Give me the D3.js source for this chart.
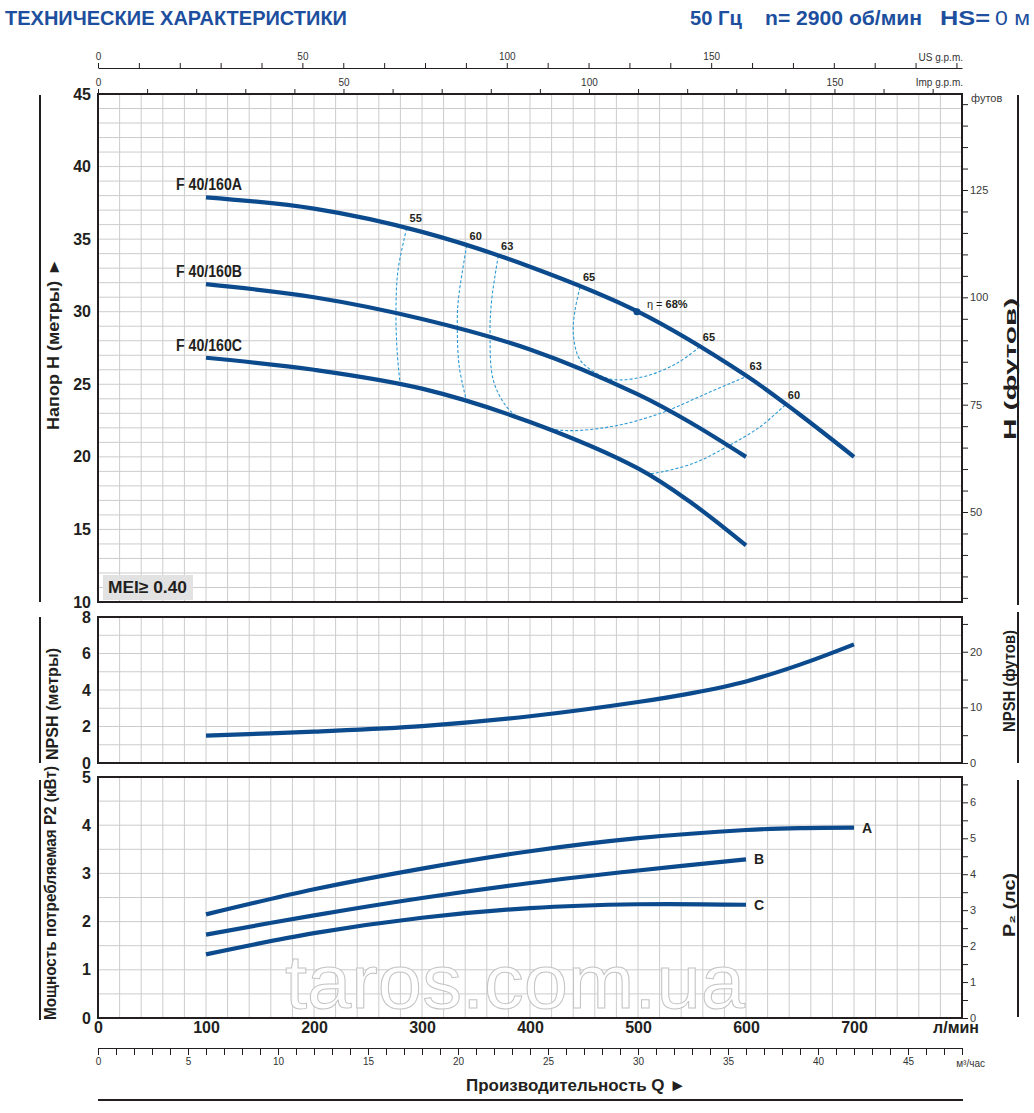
<!DOCTYPE html>
<html>
<head>
<meta charset="utf-8">
<script src="https://cdn.jsdelivr.net/npm/d3@7"></script>
<style>
  body { margin: 0; background: #fff; }
  svg { display: block; }
  text { font-family: "Liberation Sans Narrow", "Liberation Sans", Arial, sans-serif; }
</style>
</head>
<body>
<div id="chart"></div>
<script>
// ---- data ----
const qA = [100, 200, 300, 400, 500, 600, 650, 700];
const headA = [37.88, 37.1, 35.5, 33.1, 30.0, 25.6, 22.9, 20.0];
const qB = [100, 200, 300, 400, 500, 550, 600];
const headB = [31.9, 31.0, 29.5, 27.4, 24.3, 22.3, 20.0];
const qC = [100, 200, 300, 400, 500, 550, 600];
const headC = [26.83, 26.0, 24.7, 22.4, 19.2, 16.8, 13.9];
const pumpNames = ['F 40/160A', 'F 40/160B', 'F 40/160C'];

// iso-efficiency lines [Q l/min, H m]
const eff55 = [[285.8, 35.74], [277.8, 32.87], [275.9, 30.11], [276.9, 27.36], [279.6, 25.1]];
const eff60L = [[341.4, 34.55], [333.6, 30.8], [332.7, 28.96], [334.5, 26.21], [341.4, 23.8]];
const eff63 = [[370.6, 33.85], [364.5, 30.8], [363, 28.53], [366, 25.29], [378.4, 23.45], [393.8, 22.53],
  [427.8, 21.84], [474.1, 22.07], [520.4, 22.99], [563.6, 24.37], [600.6, 25.55]];
const eff65 = [[446.3, 31.68], [441.7, 30.11], [440.1, 28.51], [444.7, 26.9], [452.5, 26.21], [474.1, 25.36],
  [504.9, 25.52], [535.8, 26.44], [557.4, 27.6]];
const eff60R = [[636.1, 23.57], [613, 22.07], [582.1, 20.69], [551.2, 19.55], [514.2, 18.86], [508, 18.85]];
const bestPoint = [499, 30.0];

const qNpsh = [100, 200, 300, 400, 500, 550, 600, 650, 700];
const npsh = [1.5, 1.72, 2.02, 2.56, 3.34, 3.83, 4.47, 5.39, 6.5];

const qPowA = [100, 200, 300, 400, 500, 600, 650, 700];
const powA = [2.15, 2.67, 3.1, 3.46, 3.73, 3.9, 3.94, 3.95];
const qPowBC = [100, 200, 300, 400, 500, 600];
const powB = [1.73, 2.13, 2.49, 2.8, 3.06, 3.29];
const powC = [1.32, 1.76, 2.08, 2.28, 2.36, 2.35];
const powNames = ['A', 'B', 'C'];

const flowTicks = [0, 100, 200, 300, 400, 500, 600, 700];
const headTicks = [10, 15, 20, 25, 30, 35, 40, 45];
const headFtLabels = [50, 75, 100, 125];
const npshTicks = [0, 2, 4, 6, 8];
const npshFtLabels = [0, 10, 20];
const powTicks = [0, 1, 2, 3, 4, 5];
const hpLabels = [0, 1, 2, 3, 4, 5, 6];
const gpmLabels = [0, 50, 100, 150];
const m3Labels = [0, 5, 10, 15, 20, 25, 30, 35, 40, 45];

// ---- layout ----
const navy = '#0b4a8c';
const blueTitle = '#1d4f9e';
const dark = '#231f20';
const gridCol = '#cccccc';
const fontStack = '"Liberation Sans Narrow", "Liberation Sans", Arial, sans-serif';

const svg = d3.select('#chart').append('svg')
  .attr('width', 1034)
  .attr('height', 1113);

const x = d3.scaleLinear().domain([0, 800]).range([98, 962]);
const yHead = d3.scaleLinear().domain([10, 45]).range([602, 94]);
const yHeadFt = d3.scaleLinear().domain([29.04, 147.36]).range([602, 94]);
const yNpsh = d3.scaleLinear().domain([0, 8]).range([763, 617]);
const yNpshFt = d3.scaleLinear().domain([0, 8 / 0.3048]).range([763, 617]);
const yPow = d3.scaleLinear().domain([0, 5]).range([1018, 777]);
const yPowHp = d3.scaleLinear().domain([0, 5 / 0.7457]).range([1018, 777]);
const xUS = d3.scaleLinear().domain([0, 800 / 3.785]).range([98, 962]);
const xImp = d3.scaleLinear().domain([0, 800 / 4.546]).range([98, 962]);
const xM3 = d3.scaleLinear().domain([0, 48]).range([98, 962]);

// header
svg.append('text')
  .attr('x', 5).attr('y', 25)
  .attr('font-size', 20).attr('font-weight', 'bold')
  .attr('fill', blueTitle)
  .attr('textLength', 342).attr('lengthAdjust', 'spacingAndGlyphs')
  .text('ТЕХНИЧЕСКИЕ ХАРАКТЕРИСТИКИ');

[['50 Гц', 690, 52], ['n= 2900 об/мин', 765, 157], ['HS=', 940, 50]].forEach(h => {
  svg.append('text')
    .attr('x', h[1]).attr('y', 25)
    .attr('font-size', 20).attr('font-weight', 'bold')
    .attr('fill', blueTitle)
    .attr('textLength', h[2]).attr('lengthAdjust', 'spacingAndGlyphs')
    .text(h[0]);
});
svg.append('text')
  .attr('x', 995).attr('y', 25)
  .attr('font-size', 20)
  .attr('fill', blueTitle)
  .attr('textLength', 35).attr('lengthAdjust', 'spacingAndGlyphs')
  .text('0 м');

// grids
function drawGrid(yScale, step) {
  const g = svg.append('g').attr('stroke', gridCol).attr('stroke-width', 1);
  const [y0, y1] = yScale.domain();
  const r = yScale.range();
  d3.range(0, 801, 20).forEach(q => {
    g.append('line')
      .attr('x1', x(q)).attr('x2', x(q))
      .attr('y1', r[0]).attr('y2', r[1]);
  });
  d3.range(y0, y1 + step / 2, step).forEach(v => {
    g.append('line')
      .attr('x1', x(0)).attr('x2', x(800))
      .attr('y1', yScale(v)).attr('y2', yScale(v));
  });
}
drawGrid(yHead, 1);
drawGrid(yNpsh, 1);
drawGrid(yPow, 0.5);

// watermark
svg.append('text')
  .attr('x', 285).attr('y', 1008)
  .attr('font-size', 76)
  .attr('font-family', '"Liberation Sans", Arial, sans-serif')
  .attr('fill', '#fff').attr('fill-opacity', 0.85)
  .attr('stroke', '#c4c4c4').attr('stroke-width', 1)
  .attr('textLength', 460).attr('lengthAdjust', 'spacingAndGlyphs')
  .text('taros.com.ua');

// frames
[yHead, yNpsh, yPow].forEach(ys => {
  const r = ys.range();
  svg.append('rect')
    .attr('x', x(0)).attr('y', r[1])
    .attr('width', x(800) - x(0)).attr('height', r[0] - r[1])
    .attr('fill', 'none').attr('stroke', dark).attr('stroke-width', 2);
});

function styleAxis(g, size, bold, color) {
  g.selectAll('text')
    .attr('font-size', size)
    .attr('font-weight', bold ? 'bold' : 'normal')
    .attr('font-family', fontStack)
    .attr('fill', color);
  g.selectAll('line').attr('stroke', dark);
  g.select('.domain').remove();
}

// left value axes
[[yHead, headTicks], [yNpsh, npshTicks], [yPow, powTicks]].forEach(a => {
  const g = svg.append('g')
    .attr('transform', `translate(${x(0)},0)`)
    .call(d3.axisLeft(a[0]).tickValues(a[1]).tickSize(0).tickPadding(7).tickFormat(d => d));
  styleAxis(g, 16, true, dark);
});

// right axes
function rightAxis(scale, values, labels) {
  const g = svg.append('g')
    .attr('transform', `translate(${x(800)},0)`)
    .call(d3.axisRight(scale).tickValues(values).tickSize(6).tickPadding(2)
      .tickFormat(d => labels.includes(d) ? d : ''));
  styleAxis(g, 11, false, '#3a3a3a');
  return g;
}
rightAxis(yHeadFt, d3.range(30, 146, 5), headFtLabels);
rightAxis(yNpshFt, d3.range(0, 26, 5), npshFtLabels);
rightAxis(yPowHp, d3.range(0, 6.6, 0.5), hpLabels);

svg.append('text')
  .attr('x', 971).attr('y', 102)
  .attr('font-size', 11).attr('fill', '#3a3a3a')
  .text('футов');

// top flow axes
const gUS = svg.append('g')
  .attr('transform', 'translate(0,68)')
  .call(d3.axisTop(xUS).tickValues(d3.range(0, 211, 10)).tickSize(5).tickSizeOuter(0).tickPadding(3)
    .tickFormat(d => gpmLabels.includes(d) ? d : ''));
gUS.selectAll('text').attr('font-size', 10).attr('fill', '#333').attr('font-family', fontStack);
gUS.selectAll('line').attr('stroke', dark);
gUS.select('.domain').attr('stroke', dark).attr('stroke-width', 1.2);
svg.append('text')
  .attr('x', 963).attr('y', 61).attr('text-anchor', 'end')
  .attr('font-size', 10).attr('fill', '#333')
  .text('US g.p.m.');

const gImp = svg.append('g')
  .attr('transform', 'translate(0,94)')
  .call(d3.axisTop(xImp).tickValues(d3.range(0, 171, 10)).tickSize(5).tickPadding(3)
    .tickFormat(d => gpmLabels.includes(d) ? d : ''));
styleAxis(gImp, 10, false, '#333');
svg.append('text')
  .attr('x', 963).attr('y', 86).attr('text-anchor', 'end')
  .attr('font-size', 10).attr('fill', '#333')
  .text('Imp g.p.m.');

// bottom flow axes
const gQ = svg.append('g')
  .attr('transform', `translate(0,${yPow(0)})`)
  .call(d3.axisBottom(x).tickValues(flowTicks).tickSize(0).tickPadding(4));
styleAxis(gQ, 16, true, dark);
svg.append('text')
  .attr('x', 956).attr('y', 1033).attr('text-anchor', 'middle')
  .attr('font-size', 16).attr('font-weight', 'bold').attr('fill', dark)
  .text('л/мин');

const gM3 = svg.append('g')
  .attr('transform', 'translate(0,1048)')
  .call(d3.axisBottom(xM3).tickValues(d3.range(0, 49, 1)).tickSize(7).tickSizeOuter(0).tickPadding(3)
    .tickFormat(d => m3Labels.includes(d) ? d : ''));
gM3.selectAll('text').attr('font-size', 10).attr('fill', '#333').attr('font-family', fontStack);
gM3.selectAll('line').attr('stroke', dark);
gM3.select('.domain').attr('stroke', dark).attr('stroke-width', 1.2);
svg.append('text')
  .attr('x', 985).attr('y', 1067).attr('text-anchor', 'end')
  .attr('font-size', 10).attr('fill', '#333')
  .text('м³/час');

svg.append('text')
  .attr('x', 576).attr('y', 1091).attr('text-anchor', 'middle')
  .attr('font-size', 17).attr('font-weight', 'bold').attr('fill', dark)
  .attr('textLength', 220).attr('lengthAdjust', 'spacingAndGlyphs')
  .text('Производительность  Q  ►');
svg.append('line')
  .attr('x1', 98).attr('x2', 963).attr('y1', 1100).attr('y2', 1100)
  .attr('stroke', dark).attr('stroke-width', 2);

// side titles and bars
function sideTitle(txt, cx, cy, len, size) {
  svg.append('text')
    .attr('transform', `translate(${cx},${cy}) rotate(-90)`)
    .attr('text-anchor', 'middle').attr('dominant-baseline', 'central')
    .attr('font-size', size).attr('font-weight', 'bold').attr('fill', dark)
    .attr('textLength', len).attr('lengthAdjust', 'spacingAndGlyphs')
    .text(txt);
}
sideTitle('Напор  H  (метры)   ►', 53, 344, 172, 16);
sideTitle('NPSH  (метры)', 52, 704, 112, 16);
sideTitle('Мощность потребляемая P2 (кВт)', 50, 893, 254, 16);
sideTitle('H    (футов)', 1010, 369, 142, 16);
sideTitle('NPSH  (футов)', 1009, 681, 102, 16);
sideTitle('P₂  (лс)', 1009, 905, 64, 16);

[[95, 602], [617, 763], [780, 1020]].forEach(s => {
  svg.append('line').attr('x1', 40).attr('x2', 40).attr('y1', s[0]).attr('y2', s[1])
    .attr('stroke', dark).attr('stroke-width', 2);
});
[[95, 605], [612, 763], [780, 1017]].forEach(s => {
  svg.append('line').attr('x1', 1018).attr('x2', 1018).attr('y1', s[0]).attr('y2', s[1])
    .attr('stroke', dark).attr('stroke-width', 2);
});

// MEI box
svg.append('rect')
  .attr('x', 103).attr('y', 575).attr('width', 90).attr('height', 25)
  .attr('fill', '#e2e2e2');
svg.append('text')
  .attr('x', 108).attr('y', 593)
  .attr('font-size', 17).attr('font-weight', 'bold').attr('fill', dark)
  .attr('textLength', 79).attr('lengthAdjust', 'spacingAndGlyphs')
  .text('MEI≥ 0.40');

// efficiency iso lines
const effLine = d3.line()
  .x(d => x(d[0])).y(d => yHead(d[1]))
  .curve(d3.curveCatmullRom.alpha(0.5));
[eff55, eff60L, eff63, eff65, eff60R].forEach(e => {
  svg.append('path')
    .attr('d', effLine(e))
    .attr('fill', 'none').attr('stroke', '#2a9ad6')
    .attr('stroke-width', 1.1).attr('stroke-dasharray', '3,2');
});

// head curves
function curve(qs, vs, ys) {
  const line = d3.line()
    .x(d => x(d[0])).y(d => ys(d[1]))
    .curve(d3.curveCatmullRom.alpha(0.5));
  svg.append('path')
    .attr('d', line(d3.zip(qs, vs)))
    .attr('fill', 'none').attr('stroke', navy)
    .attr('stroke-width', 4.2).attr('stroke-linecap', 'butt');
}
curve(qA, headA, yHead);
curve(qB, headB, yHead);
curve(qC, headC, yHead);

[[qA, headA], [qB, headB], [qC, headC]].forEach((c, i) => {
  svg.append('text')
    .attr('x', x(c[0][0]) - 30).attr('y', yHead(c[1][0]) - 7)
    .attr('font-size', 16).attr('font-weight', 'bold').attr('fill', dark)
    .attr('textLength', 66).attr('lengthAdjust', 'spacingAndGlyphs')
    .text(pumpNames[i]);
});

// efficiency labels
const effMarks = [
  ['55', eff55[0]], ['60', eff60L[0]], ['63', eff63[0]], ['65', eff65[0]],
  ['65', eff65[eff65.length - 1]], ['63', eff63[eff63.length - 1]], ['60', eff60R[0]]
];
effMarks.forEach(m => {
  svg.append('text')
    .attr('x', x(m[1][0]) + 9).attr('y', yHead(m[1][1]) - 6)
    .attr('text-anchor', 'middle')
    .attr('font-size', 11).attr('font-weight', 'bold').attr('fill', dark)
    .attr('font-family', '"Liberation Sans", Arial, sans-serif')
    .text(m[0]);
});

svg.append('circle')
  .attr('cx', x(bestPoint[0])).attr('cy', yHead(bestPoint[1]))
  .attr('r', 3.5).attr('fill', navy);
const eta = svg.append('text')
  .attr('x', x(bestPoint[0]) + 10).attr('y', yHead(bestPoint[1]) - 4)
  .attr('font-size', 11).attr('fill', dark)
  .attr('font-family', '"Liberation Sans", Arial, sans-serif');
eta.append('tspan').text('η = ');
eta.append('tspan').attr('font-weight', 'bold').text('68%');

// NPSH
curve(qNpsh, npsh, yNpsh);

// power
curve(qPowA, powA, yPow);
curve(qPowBC, powB, yPow);
curve(qPowBC, powC, yPow);
[[qPowA, powA], [qPowBC, powB], [qPowBC, powC]].forEach((c, i) => {
  const n = c[0].length - 1;
  svg.append('text')
    .attr('x', x(c[0][n]) + 8).attr('y', yPow(c[1][n]) + 5)
    .attr('font-size', 14).attr('font-weight', 'bold').attr('fill', dark)
    .text(powNames[i]);
});
</script>
</body>
</html>
